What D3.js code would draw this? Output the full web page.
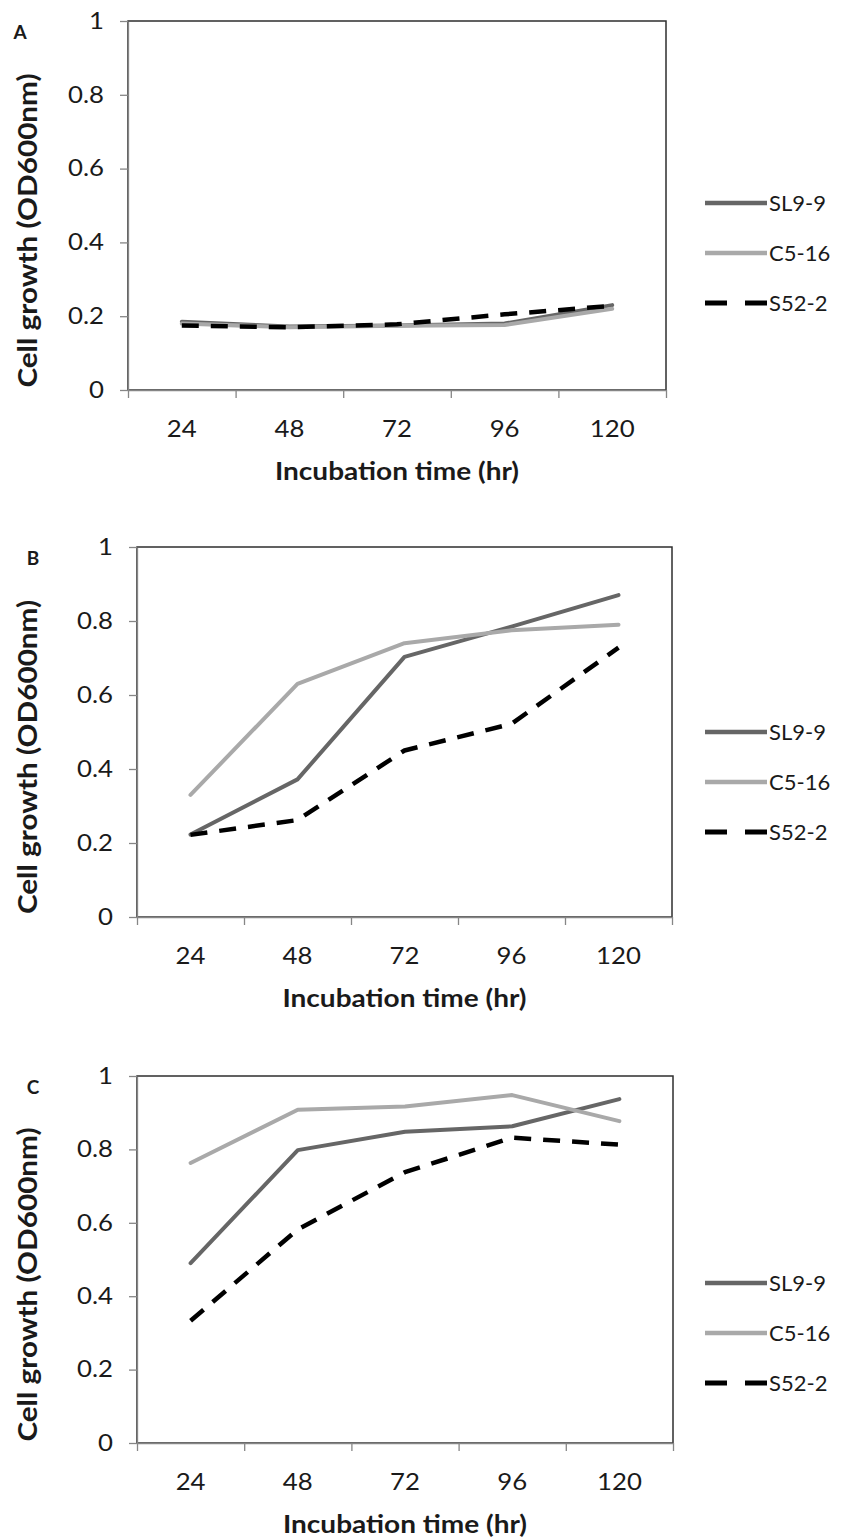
<!DOCTYPE html>
<html>
<head>
<meta charset="utf-8">
<script src="https://cdn.jsdelivr.net/npm/d3@7"></script>
<style>
  html, body { margin: 0; padding: 0; background: #fff; }
  svg { display: block; }
  text { font-family: Lato, "Open Sans", sans-serif; fill: #1a1a1a; }
</style>
</head>
<body>
<svg id="chart" width="856" height="1539"></svg>
<script>
// ---- data ----
const categories = ["24", "48", "72", "96", "120"];
const seriesNames = ["SL9-9", "C5-16", "S52-2"];
const yTickValues = [0, 0.2, 0.4, 0.6, 0.8, 1];
const yTickLabels = ["0", "0.2", "0.4", "0.6", "0.8", "1"];
const panelLetters = ["A", "B", "C"];
const xTitle = "Incubation time (hr)";
const yTitle = "Cell growth (OD600nm)";

const aSL99 = [0.185, 0.172, 0.175, 0.180, 0.230];
const aC516 = [0.180, 0.170, 0.174, 0.176, 0.220];
const aS522 = [0.175, 0.170, 0.178, 0.205, 0.228];

const bSL99 = [0.223, 0.372, 0.703, 0.785, 0.870];
const bC516 = [0.330, 0.630, 0.740, 0.775, 0.790];
const bS522 = [0.222, 0.262, 0.450, 0.522, 0.728];

const cSL99 = [0.490, 0.798, 0.848, 0.863, 0.937];
const cC516 = [0.763, 0.908, 0.917, 0.948, 0.877];
const cS522 = [0.333, 0.582, 0.738, 0.832, 0.813];

// ---- layout / style ----
const panels = [
  { letter: panelLetters[0], series: [aSL99, aC516, aS522], left: 128, right: 666, top: 21, bottom: 390, letterX: 20, legendOff: 182 },
  { letter: panelLetters[1], series: [bSL99, bC516, bS522], left: 137, right: 672, top: 547, bottom: 917, letterX: 33, legendOff: 185 },
  { letter: panelLetters[2], series: [cSL99, cC516, cS522], left: 137, right: 673, top: 1076, bottom: 1443, letterX: 33, legendOff: 207 }
];
const seriesStyle = [
  { color: "#666666", width: 4, dash: null },
  { color: "#a9a9a9", width: 4, dash: null },
  { color: "#000000", width: 4.5, dash: "17,12" }
];
const axisColor = "#868686";

const svg = d3.select("#chart");

function stretch(sel, f) {
  sel.each(function () {
    const w = this.getComputedTextLength();
    d3.select(this).attr("textLength", w * f).attr("lengthAdjust", "spacingAndGlyphs");
  });
}

panels.forEach(p => {
  const g = svg.append("g");
  const x = d3.scaleBand().domain(categories).range([p.left, p.right]).padding(0);
  const xEdges = d3.scaleLinear().domain([0, categories.length]).range([p.left, p.right]);
  const y = d3.scaleLinear().domain([0, 1]).range([p.bottom, p.top]);

  // plot border
  g.append("rect")
    .attr("x", p.left).attr("y", p.top)
    .attr("width", p.right - p.left).attr("height", p.bottom - p.top)
    .attr("fill", "none").attr("stroke", "#2e2e2e").attr("stroke-width", 1.5);

  // y axis
  const yAx = g.append("g").attr("transform", `translate(${p.left},0)`)
    .call(d3.axisLeft(y).tickValues(yTickValues)
      .tickFormat((d, i) => yTickLabels[i]).tickSize(8).tickSizeOuter(0).tickPadding(16));
  yAx.selectAll("path, line").attr("stroke", axisColor).attr("stroke-width", 1.3);
  yAx.selectAll("text").style("font-size", "23px").attr("fill", "#1a1a1a");
  stretch(yAx.selectAll("text"), 1.12);

  // x axis tick marks at band edges
  const xAxT = g.append("g").attr("transform", `translate(0,${p.bottom})`)
    .call(d3.axisBottom(xEdges).tickValues(d3.range(categories.length + 1))
      .tickFormat("").tickSize(8).tickSizeOuter(0));
  xAxT.selectAll("path, line").attr("stroke", axisColor).attr("stroke-width", 1.3);

  // x axis labels
  const xAxL = g.append("g").attr("transform", `translate(0,${p.bottom})`)
    .call(d3.axisBottom(x).tickSize(0).tickPadding(31));
  xAxL.select("path").remove();
  xAxL.selectAll("text").style("font-size", "23px").attr("fill", "#1a1a1a");
  stretch(xAxL.selectAll("text"), 1.12);

  // lines
  const line = d3.line().x((d, i) => x(categories[i]) + x.bandwidth() / 2).y(d => y(d));
  p.series.forEach((vals, si) => {
    const st = seriesStyle[si];
    g.append("path").datum(vals)
      .attr("d", line)
      .attr("fill", "none")
      .attr("stroke", st.color)
      .attr("stroke-width", st.width)
      .attr("stroke-linejoin", "round")
      .attr("stroke-linecap", st.dash ? "butt" : "round")
      .attr("stroke-dasharray", st.dash);
  });

  // x title
  const xt = g.append("text")
    .attr("x", (p.left + p.right) / 2).attr("y", p.bottom + 90)
    .attr("text-anchor", "middle")
    .style("font-size", "25px").style("font-weight", "bold")
    .text(xTitle);
  stretch(xt, 1.12);

  // y title
  const ty = (p.top + p.bottom) / 2 + 25;
  const yt = g.append("text")
    .attr("transform", `translate(37,${ty}) rotate(-90)`)
    .attr("text-anchor", "middle")
    .style("font-size", "27px").style("font-weight", "bold")
    .text(yTitle);
  stretch(yt, 1.1);

  // panel letter
  g.append("text")
    .attr("x", p.letterX).attr("y", p.top + 18)
    .attr("text-anchor", "middle")
    .style("font-size", "19px").style("font-weight", "bold")
    .text(p.letter);

  // legend
  seriesNames.forEach((name, si) => {
    const st = seriesStyle[si];
    const ly = p.top + p.legendOff + si * 50;
    g.append("line")
      .attr("x1", 705).attr("x2", 767).attr("y1", ly).attr("y2", ly)
      .attr("stroke", st.color).attr("stroke-width", st.width + 0.5)
      .attr("stroke-dasharray", st.dash ? "22,18" : null);
    g.append("text")
      .attr("x", 769).attr("y", ly).attr("dy", "0.35em")
      .style("font-size", "22px")
      .text(name);
  });
});
</script>
</body>
</html>
